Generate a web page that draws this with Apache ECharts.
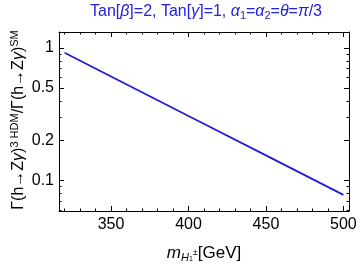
<!DOCTYPE html>
<html><head><meta charset="utf-8">
<script src="https://cdn.jsdelivr.net/npm/echarts@6/dist/echarts.min.js"></script>
<style>html,body{margin:0;padding:0;background:#fff}#c{width:360px;height:268px}</style>
</head><body><div id="c"></div>
<script>
// Data
const massValues = [320, 350, 400, 450, 500];
const ratioValues = [0.92, 0.61, 0.307, 0.155, 0.078];
const xMajorTicks = [350, 400, 450, 500];
const xMinorTicks = [320, 330, 340, 360, 370, 380, 390, 410, 420, 430, 440, 460, 470, 480, 490];
const yMajorTicks = [0.1, 0.2, 0.5, 1];
const yMinorTicks = [0.06, 0.07, 0.08, 0.09, 0.3, 0.4, 0.6, 0.7, 0.8, 0.9];

const FONT = 'Liberation Sans, Arial, sans-serif';
const XMIN = 316.4, XMAX = 503.6, YMIN = 0.059, YMAX = 1.32;

function xAx(pos, ticks, len, labels, line) {
  return {
    type: 'value', position: pos, min: XMIN, max: XMAX,
    axisLine: {show: line, lineStyle: {color: '#000', width: 1}},
    axisTick: {show: true, inside: true, length: len, customValues: ticks, lineStyle: {color: '#000', width: 1}},
    axisLabel: {show: labels, customValues: ticks, margin: 6, color: '#000', fontSize: 16, fontFamily: FONT,
      formatter: v => String(v)},
    splitLine: {show: false}
  };
}
function yAx(pos, ticks, len, labels, line) {
  return {
    type: 'log', logBase: 10, position: pos, min: YMIN, max: YMAX,
    axisLine: {show: line, lineStyle: {color: '#000', width: 1}},
    axisTick: {show: true, inside: true, length: len, customValues: ticks, lineStyle: {color: '#000', width: 1}},
    axisLabel: {show: labels, customValues: ticks, margin: 5, color: '#000', fontSize: 16, fontFamily: FONT,
      formatter: v => String(v)},
    splitLine: {show: false}, minorTick: {show: false}
  };
}

const chart = echarts.init(document.getElementById('c'), null, {renderer: 'canvas'});
chart.setOption({
  animation: false,
  grid: {left: 59, right: 11, top: 32, bottom: 57},
  xAxis: [
    xAx('bottom', xMajorTicks, 5, true, true),
    xAx('bottom', xMinorTicks, 2.5, false, false),
    xAx('top', xMajorTicks, 5, false, true),
    xAx('top', xMinorTicks, 2.5, false, false)
  ],
  yAxis: [
    yAx('left', yMajorTicks, 5, true, true),
    yAx('left', yMinorTicks, 2.5, false, false),
    yAx('right', yMajorTicks, 5, false, true),
    yAx('right', yMinorTicks, 2.5, false, false)
  ],
  series: [{
    type: 'line', xAxisIndex: 0, yAxisIndex: 0,
    data: massValues.map((m, i) => [m, ratioValues[i]]),
    showSymbol: false, lineStyle: {color: '#1e1ed8', width: 1.8}
  }],
  graphic: [
    {
      type: 'text', x: 206, y: 12,
      style: {
        text: '{n|Tan[}{i|β}{n|]=2, Tan[}{i|γ}{n|]=1, }{i|α}{s|1}{n|=}{i|α}{s|2}{n|=}{i|θ}{n|=}{i|π}{n|/3}',
        align: 'center', verticalAlign: 'middle',
        rich: {
          n: {fontSize: 16, fontFamily: FONT, fill: '#2222dc', lineHeight: 19},
          i: {fontSize: 16, fontFamily: FONT, fontStyle: 'italic', fill: '#2222dc', lineHeight: 19},
          s: {fontSize: 11, fontFamily: FONT, fill: '#2222dc', verticalAlign: 'bottom', lineHeight: 14}
        }
      }
    },
    {
      type: 'text', x: 19, y: 120, rotation: Math.PI / 2,
      style: {
        text: '{n|Γ(h→Z}{i|γ}{n|)}{p|3 HDM}{n|/Γ(h→Z}{i|γ}{n|)}{p|SM}',
        align: 'center', verticalAlign: 'middle',
        rich: {
          n: {fontSize: 16, fontFamily: FONT, fill: '#000', lineHeight: 20},
          i: {fontSize: 16, fontFamily: FONT, fontStyle: 'italic', fill: '#000', lineHeight: 20},
          p: {fontSize: 11, fontFamily: FONT, fill: '#000', verticalAlign: 'top', lineHeight: 12}
        }
      }
    },
    {
      type: 'text', x: 204, y: 253,
      style: {
        text: '{m|m}{h|H}{o|1}{pm|±}{n|[GeV]}',
        align: 'center', verticalAlign: 'middle',
        rich: {
          m: {fontSize: 17, fontFamily: FONT, fontStyle: 'italic', fill: '#000', lineHeight: 20},
          h: {fontSize: 11, fontFamily: FONT, fontStyle: 'italic', fill: '#000', verticalAlign: 'bottom', lineHeight: 12},
          o: {fontSize: 7, fontFamily: FONT, fill: '#000', verticalAlign: 'bottom', lineHeight: 8},
          pm: {fontSize: 9, fontFamily: FONT, fill: '#000', lineHeight: 12},
          n: {fontSize: 17, fontFamily: FONT, fill: '#000', lineHeight: 20}
        }
      }
    }
  ]
});
</script></body></html>
